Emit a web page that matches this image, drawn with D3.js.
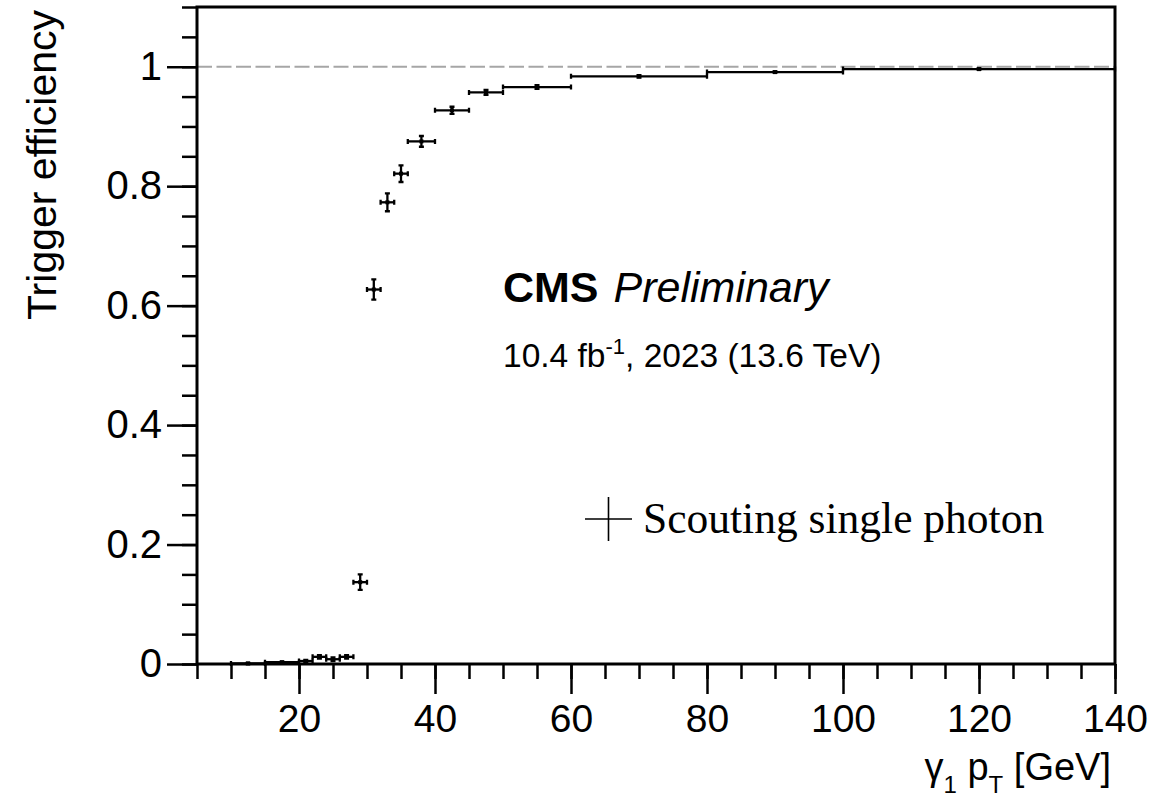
<!DOCTYPE html>
<html>
<head>
<meta charset="utf-8">
<script src="https://cdn.jsdelivr.net/npm/d3@7"></script>
<style>
  body { margin: 0; background: #fff; }
  text { font-family: "Liberation Sans", Arial, sans-serif; fill: #000; }
</style>
</head>
<body>
<div id="chart"></div>
<script>
const W = 1171, H = 803;
const PLOT = { left: 197, right: 1115, top: 7, bottom: 664 };

// bins in photon pT [GeV] and measured efficiency
const binLo = [10, 15, 20, 22, 24, 26, 28, 30, 32, 34, 36, 40, 45, 50, 60, 80, 100];
const binHi = [15, 20, 22, 24, 26, 28, 30, 32, 34, 36, 40, 45, 50, 60, 80, 100, 140];
const eff = [0.001, 0.003, 0.005, 0.012, 0.008, 0.012, 0.137, 0.627, 0.773, 0.821, 0.875, 0.927, 0.957, 0.966, 0.984, 0.991, 0.996];
const effErr = [0.001, 0.001, 0.002, 0.003, 0.003, 0.003, 0.013, 0.017, 0.015, 0.014, 0.009, 0.006, 0.004, 0.003, 0.002, 0.001, 0.001];

const xTicks = [20, 40, 60, 80, 100, 120, 140];
const yTicks = [0, 0.2, 0.4, 0.6, 0.8, 1];
const yTickLabels = ["0", "0.2", "0.4", "0.6", "0.8", "1"];

const svg = d3.select("#chart").append("svg")
    .attr("width", W).attr("height", H);

const x = d3.scaleLinear().domain([5, 140]).range([PLOT.left, PLOT.right]);
const y = d3.scaleLinear().domain([0, 1.1]).range([PLOT.bottom, PLOT.top]);

// reference line at 1
svg.append("line")
    .attr("x1", x(5)).attr("x2", x(140))
    .attr("y1", y(1)).attr("y2", y(1))
    .attr("stroke", "#a6a6a6").attr("stroke-width", 2.2)
    .attr("stroke-dasharray", "15,4.5");

// axes
const xMinor = svg.append("g").attr("transform", "translate(0," + PLOT.bottom + ")")
    .call(d3.axisBottom(x).tickValues(d3.range(5, 141, 5)).tickSize(15).tickFormat(""));
const xMajor = svg.append("g").attr("transform", "translate(0," + PLOT.bottom + ")")
    .call(d3.axisBottom(x).tickValues(xTicks).tickSize(30).tickPadding(10));
const yMinor = svg.append("g").attr("transform", "translate(" + PLOT.left + ",0)")
    .call(d3.axisLeft(y).tickValues(d3.range(0, 1.1001, 0.05)).tickSize(15).tickFormat(""));
const yMajor = svg.append("g").attr("transform", "translate(" + PLOT.left + ",0)")
    .call(d3.axisLeft(y).tickValues(yTicks).tickSize(30).tickPadding(5)
        .tickFormat((d, i) => yTickLabels[i]));

[xMinor, xMajor, yMinor, yMajor].forEach(g => {
    g.select(".domain").remove();
    g.selectAll(".tick line").attr("stroke", "#000").attr("stroke-width", 2.5);
    g.selectAll(".tick text").attr("font-size", 39)
        .style("font-family", "Liberation Sans, Arial, sans-serif").attr("fill", "#000");
});
yMajor.selectAll(".tick text").attr("font-size", 40);

// frame
svg.append("rect")
    .attr("x", PLOT.left).attr("y", PLOT.top)
    .attr("width", PLOT.right - PLOT.left).attr("height", PLOT.bottom - PLOT.top)
    .attr("fill", "none").attr("stroke", "#000").attr("stroke-width", 3);

// data points with error bars
const pts = binLo.map((lo, i) => ({ lo: lo, hi: binHi[i], v: eff[i], e: effErr[i] }));
const CAP = 2.5;
const pg = svg.append("g").attr("stroke", "#000").attr("stroke-width", 2.3);
const pt = pg.selectAll("g.pt").data(pts).enter().append("g").attr("class", "pt");
pt.append("line")
    .attr("x1", d => x(d.lo)).attr("x2", d => x(d.hi))
    .attr("y1", d => y(d.v)).attr("y2", d => y(d.v));
pt.append("line")
    .attr("x1", d => x((d.lo + d.hi) / 2)).attr("x2", d => x((d.lo + d.hi) / 2))
    .attr("y1", d => y(d.v - d.e)).attr("y2", d => y(d.v + d.e));
// caps
pt.append("path")
    .attr("d", d => {
        const xc = x((d.lo + d.hi) / 2), yc = y(d.v);
        return "M" + x(d.lo) + "," + (yc - CAP) + "V" + (yc + CAP) +
            "M" + x(d.hi) + "," + (yc - CAP) + "V" + (yc + CAP) +
            "M" + (xc - CAP) + "," + y(d.v - d.e) + "H" + (xc + CAP) +
            "M" + (xc - CAP) + "," + y(d.v + d.e) + "H" + (xc + CAP);
    });
pt.append("rect")
    .attr("x", d => x((d.lo + d.hi) / 2) - 2).attr("y", d => y(d.v) - 2)
    .attr("width", 4).attr("height", 4).attr("fill", "#000").attr("stroke", "none");

// axis titles
svg.append("text")
    .attr("transform", "translate(56,10) rotate(-90)")
    .attr("text-anchor", "end").attr("font-size", 41)
    .text("Trigger efficiency");

const xt = svg.append("text")
    .attr("x", 1111).attr("y", 780)
    .attr("text-anchor", "end").attr("font-size", 38);
xt.append("tspan").text("γ");
xt.append("tspan").attr("font-size", 24).attr("dy", 13).text("1");
xt.append("tspan").attr("dy", -13).text(" p");
xt.append("tspan").attr("font-size", 24).attr("dy", 13).text("T");
xt.append("tspan").attr("dy", -13).text(" [GeV]");

// CMS label
const cms = svg.append("text").attr("x", 503).attr("y", 302).attr("font-size", 43);
cms.append("tspan").attr("font-weight", "bold").text("CMS");
cms.append("tspan").attr("font-style", "italic").attr("dx", 15).text("Preliminary");

const lumi = svg.append("text").attr("x", 503).attr("y", 367).attr("font-size", 33.5);
lumi.append("tspan").text("10.4 fb");
lumi.append("tspan").attr("font-size", 22).attr("dy", -13).text("-1");
lumi.append("tspan").attr("dy", 13).text(", 2023 (13.6 TeV)");

// legend
const legend = svg.append("g");
legend.append("path")
    .attr("d", "M585,519H632M608.5,497V541")
    .attr("stroke", "#000").attr("stroke-width", 1.6);
legend.append("text")
    .attr("x", 643).attr("y", 533)
    .attr("font-size", 43.5)
    .style("font-family", "Liberation Serif, Times New Roman, serif")
    .text("Scouting single photon");
</script>
</body>
</html>
